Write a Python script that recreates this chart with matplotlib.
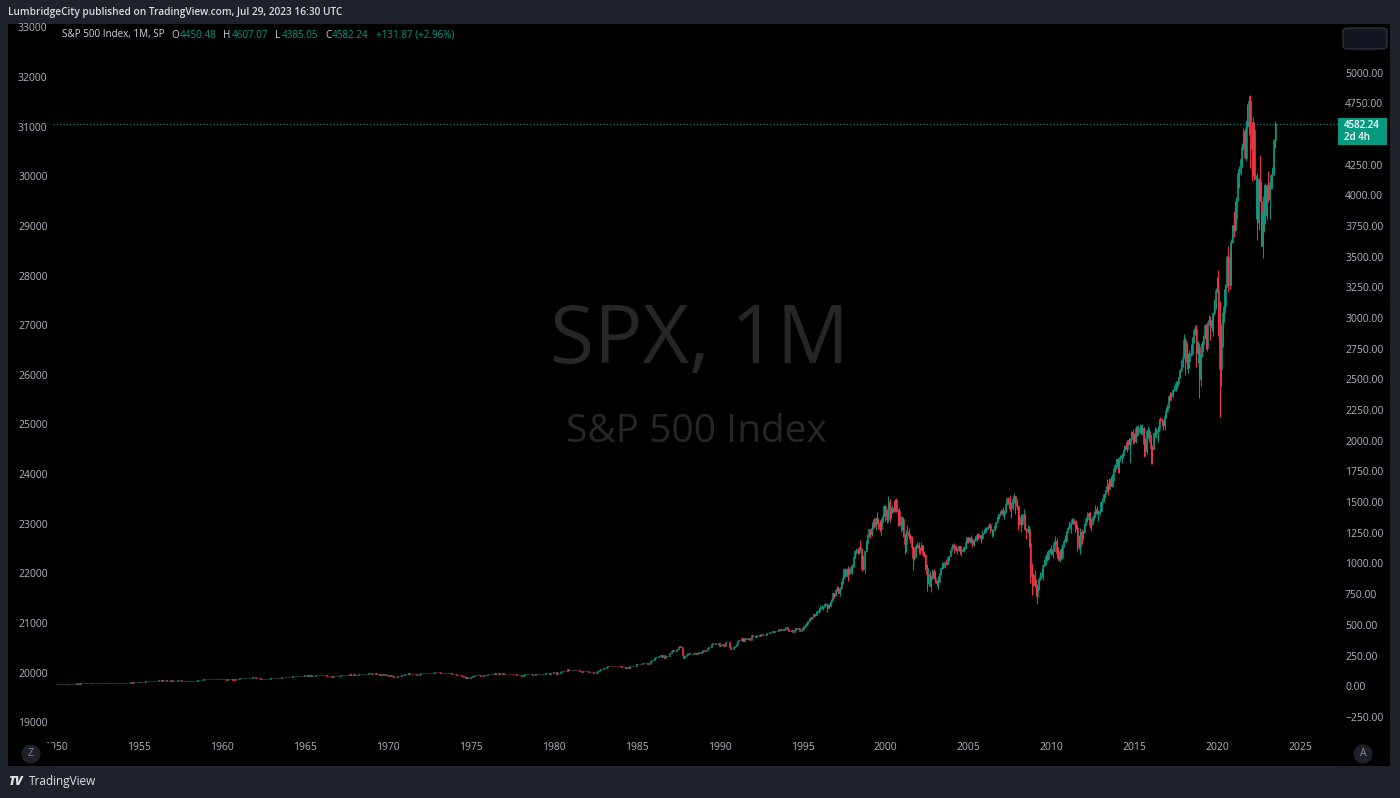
import matplotlib
matplotlib.use("Agg")
import matplotlib.pyplot as plt
import numpy as np
from matplotlib.collections import LineCollection
from matplotlib.patches import Rectangle, FancyBboxPatch, Ellipse
from matplotlib.ticker import FixedLocator, FuncFormatter

plt.rcParams['font.family'] = ['Open Sans', 'DejaVu Sans']

# ---------------- DATA: S&P 500 monthly (Jan 1950 .. Jul 2023) ----------------
first_open = 16.66  # Dec 1949 close

close_1950s = [
    17.05, 17.22, 17.29, 17.96, 18.78, 17.69, 17.84, 18.42, 19.45, 19.53, 19.51, 20.41,
    21.66, 21.80, 21.40, 22.43, 21.52, 20.96, 22.40, 23.28, 23.26, 22.94, 22.88, 23.77,
    24.14, 23.26, 24.37, 23.32, 23.86, 24.96, 25.40, 25.03, 24.54, 24.52, 25.66, 26.57,
    26.38, 25.90, 25.29, 24.62, 24.54, 24.14, 24.75, 23.32, 23.35, 24.54, 24.76, 24.81,
    26.08, 26.15, 26.94, 28.26, 29.19, 29.21, 30.88, 29.83, 32.31, 31.68, 34.24, 35.98,
    36.63, 36.76, 36.58, 37.96, 37.91, 41.03, 43.52, 43.18, 43.67, 42.34, 45.51, 45.48,
    43.82, 45.34, 48.48, 48.38, 45.20, 46.97, 49.39, 47.51, 45.35, 45.58, 45.08, 46.67,
    44.72, 43.26, 44.11, 45.74, 47.43, 47.37, 47.91, 45.22, 42.42, 41.06, 41.72, 39.99,
    41.70, 40.84, 42.10, 43.44, 44.09, 45.24, 47.19, 47.75, 50.06, 51.33, 52.48, 55.21,
    55.42, 55.41, 55.44, 57.59, 58.68, 58.47, 60.51, 59.60, 56.88, 57.52, 58.28, 59.89]
close_1960s = [
    55.61, 56.12, 55.34, 54.37, 55.83, 56.92, 55.51, 56.96, 53.52, 53.39, 55.54, 58.11,
    61.78, 63.44, 65.06, 65.31, 66.56, 64.64, 66.76, 68.07, 66.73, 68.62, 71.32, 71.55,
    68.84, 69.96, 69.55, 65.24, 59.63, 54.75, 58.23, 59.12, 56.27, 56.52, 62.26, 63.10,
    66.20, 64.29, 66.57, 69.80, 70.80, 69.37, 69.13, 72.50, 71.70, 74.01, 73.23, 75.02,
    77.04, 77.80, 78.98, 79.46, 80.37, 81.69, 83.18, 81.83, 84.18, 84.86, 84.42, 84.75,
    87.56, 87.43, 86.16, 89.11, 88.42, 84.12, 85.25, 87.17, 89.96, 92.42, 91.61, 92.43,
    92.88, 91.22, 89.23, 91.06, 86.13, 84.74, 83.60, 77.10, 76.56, 80.20, 80.45, 80.33,
    86.61, 86.78, 90.20, 94.01, 89.08, 90.64, 94.75, 93.64, 96.71, 93.90, 94.00, 96.47,
    92.24, 89.36, 90.20, 97.59, 98.68, 99.58, 97.74, 98.86, 102.67, 103.41, 108.37, 103.86,
    103.01, 98.13, 101.51, 103.69, 103.46, 97.71, 91.83, 95.51, 93.12, 97.24, 93.81, 92.06]
close_1970s = [
    85.02, 89.50, 89.63, 81.52, 76.55, 72.72, 78.05, 81.52, 84.21, 83.25, 87.20, 92.15,
    95.88, 96.75, 100.31, 103.95, 99.63, 98.70, 95.58, 99.03, 98.34, 94.23, 93.99, 102.09,
    103.94, 106.57, 107.20, 107.67, 109.53, 107.14, 107.39, 111.09, 110.55, 111.58, 116.67, 118.05,
    116.03, 111.68, 111.52, 106.97, 104.95, 104.26, 108.22, 104.25, 108.43, 108.29, 95.96, 97.55,
    96.57, 96.22, 93.98, 90.31, 87.28, 86.00, 79.31, 72.15, 63.54, 73.90, 69.97, 68.56,
    76.98, 81.59, 83.36, 87.30, 91.15, 95.19, 88.75, 86.88, 83.87, 89.04, 91.24, 90.19,
    100.86, 99.71, 102.77, 101.64, 100.18, 104.28, 103.44, 102.91, 105.24, 102.90, 102.10, 107.46,
    102.03, 99.82, 98.42, 98.44, 96.12, 100.48, 98.85, 96.77, 96.53, 92.34, 94.83, 95.10,
    89.25, 87.04, 89.21, 96.83, 97.24, 95.53, 100.68, 103.29, 102.54, 93.15, 94.70, 96.11,
    99.93, 96.28, 101.59, 101.76, 99.08, 102.91, 103.81, 109.32, 109.32, 101.82, 106.16, 107.94]
close_1980s = [
    114.16, 113.66, 102.09, 106.29, 111.24, 114.24, 121.67, 122.38, 125.46, 127.47, 140.52, 135.76,
    129.55, 131.27, 136.00, 132.81, 132.59, 131.21, 130.92, 122.79, 116.18, 121.89, 126.35, 122.55,
    120.40, 113.11, 111.96, 116.44, 111.88, 109.61, 107.09, 119.51, 120.42, 133.71, 138.54, 140.64,
    145.30, 148.06, 152.96, 164.42, 162.39, 168.11, 162.56, 164.40, 166.07, 163.55, 166.40, 164.93,
    163.41, 157.06, 159.18, 160.05, 150.55, 153.18, 150.66, 166.68, 166.10, 166.09, 163.58, 167.24,
    179.63, 181.18, 180.66, 179.83, 189.55, 191.85, 190.92, 188.63, 182.08, 189.82, 202.17, 211.28,
    211.78, 226.92, 238.90, 235.52, 247.35, 250.84, 236.12, 252.93, 231.32, 243.98, 249.22, 242.17,
    274.08, 284.20, 291.70, 288.36, 290.10, 304.00, 318.66, 329.80, 321.83, 251.79, 230.30, 247.08,
    257.07, 267.82, 258.89, 261.33, 262.16, 273.50, 272.02, 261.52, 271.91, 278.97, 273.70, 277.72,
    297.47, 288.86, 294.87, 309.64, 320.52, 317.98, 346.08, 351.45, 349.15, 340.36, 345.99, 353.40]
close_1990s = [
    329.08, 331.89, 339.94, 330.80, 361.23, 358.02, 356.15, 322.56, 306.05, 304.00, 322.22, 330.22,
    343.93, 367.07, 375.22, 375.35, 389.83, 371.16, 387.81, 395.43, 387.86, 392.45, 375.22, 417.09,
    408.79, 412.70, 403.69, 414.95, 415.35, 408.14, 424.21, 414.03, 417.80, 418.68, 431.35, 435.71,
    438.78, 443.38, 451.67, 440.19, 450.19, 450.53, 448.13, 463.56, 458.93, 467.83, 461.79, 466.45,
    481.61, 467.14, 445.77, 450.91, 456.50, 444.27, 458.26, 475.49, 462.69, 472.35, 453.69, 459.27,
    470.42, 487.39, 500.71, 514.71, 533.40, 544.75, 562.06, 561.88, 584.41, 581.50, 605.37, 615.93,
    636.02, 640.43, 645.50, 654.17, 669.12, 670.63, 639.95, 651.99, 687.33, 705.27, 757.02, 740.74,
    786.16, 790.82, 757.12, 801.34, 848.28, 885.14, 954.29, 899.47, 947.28, 914.62, 955.40, 970.43,
    980.28, 1049.34, 1101.75, 1111.75, 1090.82, 1133.84, 1120.67, 957.28, 1017.01, 1098.67, 1163.63, 1229.23,
    1279.64, 1238.33, 1286.37, 1335.18, 1301.84, 1372.71, 1328.72, 1320.41, 1282.71, 1362.93, 1388.91, 1469.25]
close_2000s = [
    1394.46, 1366.42, 1498.58, 1452.43, 1420.60, 1454.60, 1430.83, 1517.68, 1436.51, 1429.40, 1314.95, 1320.28,
    1366.01, 1239.94, 1160.33, 1249.46, 1255.82, 1224.42, 1211.23, 1133.58, 1040.94, 1059.78, 1139.45, 1148.08,
    1130.20, 1106.73, 1147.39, 1076.92, 1067.14, 989.82, 911.62, 916.07, 815.28, 885.76, 936.31, 879.82,
    855.70, 841.15, 849.18, 916.92, 963.59, 974.50, 990.31, 1008.01, 995.97, 1050.71, 1058.20, 1111.92,
    1131.13, 1144.94, 1126.21, 1107.30, 1120.68, 1140.84, 1101.72, 1104.24, 1114.58, 1130.20, 1173.82, 1211.92,
    1181.27, 1203.60, 1180.59, 1156.85, 1191.50, 1191.33, 1234.18, 1220.33, 1228.81, 1207.01, 1249.48, 1248.29,
    1280.08, 1280.66, 1294.87, 1310.61, 1270.09, 1270.20, 1276.66, 1303.82, 1335.85, 1377.94, 1400.63, 1418.30,
    1438.24, 1406.82, 1420.86, 1482.37, 1530.62, 1503.35, 1455.27, 1473.99, 1526.75, 1549.38, 1481.14, 1468.36,
    1378.55, 1330.63, 1322.70, 1385.59, 1400.38, 1280.00, 1267.38, 1282.83, 1166.36, 968.75, 896.24, 903.25,
    825.88, 735.09, 797.87, 872.81, 919.14, 919.32, 987.48, 1020.62, 1057.08, 1036.19, 1095.63, 1115.10]
close_2010s = [
    1073.87, 1104.49, 1169.43, 1186.69, 1089.41, 1030.71, 1101.60, 1049.33, 1141.20, 1183.26, 1180.55, 1257.64,
    1286.12, 1327.22, 1325.83, 1363.61, 1345.20, 1320.64, 1292.28, 1218.89, 1131.42, 1253.30, 1246.96, 1257.60,
    1312.41, 1365.68, 1408.47, 1397.91, 1310.33, 1362.16, 1379.32, 1406.58, 1440.67, 1412.16, 1416.18, 1426.19,
    1498.11, 1514.68, 1569.19, 1597.57, 1630.74, 1606.28, 1685.73, 1632.97, 1681.55, 1756.54, 1805.81, 1848.36,
    1782.59, 1859.45, 1872.34, 1883.95, 1923.57, 1960.23, 1930.67, 2003.37, 1972.29, 2018.05, 2067.56, 2058.90,
    1994.99, 2104.50, 2067.89, 2085.51, 2107.39, 2063.11, 2103.84, 1972.18, 1920.03, 2079.36, 2080.41, 2043.94,
    1940.24, 1932.23, 2059.74, 2065.30, 2096.95, 2098.86, 2173.60, 2170.95, 2168.27, 2126.15, 2198.81, 2238.83,
    2278.87, 2363.64, 2362.72, 2384.20, 2411.80, 2423.41, 2470.30, 2471.65, 2519.36, 2575.26, 2647.58, 2673.61,
    2823.81, 2713.83, 2640.87, 2648.05, 2705.27, 2718.37, 2816.29, 2901.52, 2913.98, 2711.74, 2760.17, 2506.85,
    2704.10, 2784.49, 2834.40, 2945.83, 2752.06, 2941.76, 2980.38, 2926.46, 2976.74, 3037.56, 3140.98, 3230.78]
close_2020s = [
    3225.52, 2954.22, 2584.59, 2912.43, 3044.31, 3100.29, 3271.12, 3500.31, 3363.00, 3269.96, 3621.63, 3756.07,
    3714.24, 3811.15, 3972.89, 4181.17, 4204.11, 4297.50, 4395.26, 4522.68, 4307.54, 4605.38, 4567.00, 4766.18,
    4515.55, 4373.94, 4530.41, 4131.93, 4132.15, 3785.38, 4130.29, 3955.00, 3585.62, 3871.98, 4080.11, 3839.50,
    4076.60, 3970.15, 4109.31, 4169.48, 4179.83, 4450.38, 4582.24]

# Monthly highs / lows (read from the wicks, Jan 1995 .. Jul 2023)
wick_start_year = 1995
high_1990s = [
    473, 491, 507, 515, 535, 552, 563, 564, 587, 587, 609, 622,
    637, 665, 659, 657, 680, 679, 673, 673, 690, 711, 762, 762,
    794, 818, 815, 807, 850, 899, 957, 961, 960, 983, 960, 986,
    993, 1050, 1106, 1124, 1123, 1139, 1190, 1123, 1066, 1103, 1192, 1244,
    1285, 1283, 1321, 1361, 1368, 1377, 1418, 1361, 1358, 1374, 1400, 1474]
low_1990s = [
    459, 469, 485, 500, 509, 532, 542, 549, 561, 572, 581, 603,
    597, 632, 627, 624, 645, 658, 602, 637, 650, 680, 703, 717,
    737, 773, 756, 733, 793, 831, 880, 896, 898, 855, 911, 926,
    912, 975, 1046, 1076, 1074, 1075, 1114, 939, 944, 923, 1090, 1132,
    1212, 1208, 1225, 1282, 1289, 1276, 1325, 1280, 1268, 1233, 1342, 1387]
high_2000s = [
    1478, 1446, 1553, 1528, 1464, 1474, 1517, 1525, 1530, 1440, 1454, 1389,
    1383, 1376, 1243, 1269, 1316, 1287, 1239, 1226, 1140, 1110, 1160, 1173,
    1176, 1131, 1173, 1148, 1098, 1070, 993, 962, 935, 904, 954, 954,
    935, 865, 895, 920, 965, 1016, 1016, 1011, 1040, 1054, 1063, 1112,
    1155, 1158, 1163, 1150, 1128, 1146, 1142, 1110, 1132, 1142, 1188, 1218,
    1217, 1212, 1229, 1192, 1200, 1220, 1246, 1245, 1243, 1233, 1270, 1276,
    1295, 1297, 1311, 1326, 1326, 1284, 1283, 1306, 1340, 1390, 1407, 1431,
    1441, 1461, 1438, 1499, 1534, 1541, 1556, 1504, 1539, 1576, 1552, 1523,
    1471, 1396, 1406, 1404, 1441, 1404, 1293, 1314, 1304, 1167, 1007, 919,
    944, 877, 832, 888, 930, 956, 996, 1040, 1081, 1101, 1111, 1130]
low_2000s = [
    1350, 1326, 1339, 1339, 1373, 1415, 1420, 1428, 1420, 1305, 1308, 1255,
    1274, 1214, 1081, 1091, 1246, 1203, 1165, 1125, 944, 1026, 1054, 1124,
    1081, 1074, 1106, 1063, 1049, 945, 775, 834, 814, 768, 872, 872,
    841, 818, 789, 846, 904, 951, 962, 961, 990, 995, 1023, 1058,
    1105, 1124, 1088, 1103, 1077, 1112, 1078, 1060, 1100, 1091, 1128, 1163,
    1163, 1163, 1166, 1137, 1146, 1187, 1183, 1201, 1205, 1168, 1201, 1246,
    1245, 1253, 1277, 1290, 1245, 1219, 1224, 1264, 1290, 1327, 1360, 1385,
    1403, 1389, 1364, 1416, 1481, 1484, 1429, 1370, 1439, 1489, 1406, 1435,
    1270, 1316, 1257, 1312, 1373, 1272, 1200, 1247, 1134, 840, 741, 818,
    805, 734, 667, 783, 866, 889, 869, 979, 991, 1020, 1029, 1085]
high_2010s = [
    1150, 1113, 1180, 1220, 1206, 1132, 1120, 1129, 1157, 1196, 1228, 1263,
    1303, 1344, 1333, 1367, 1370, 1347, 1357, 1308, 1229, 1292, 1277, 1270,
    1333, 1378, 1420, 1422, 1416, 1364, 1392, 1426, 1475, 1470, 1434, 1449,
    1504, 1530, 1570, 1598, 1688, 1655, 1698, 1710, 1730, 1776, 1814, 1849,
    1850, 1867, 1884, 1897, 1925, 1968, 1991, 2005, 2019, 2019, 2076, 2094,
    2065, 2120, 2118, 2126, 2135, 2130, 2133, 2113, 2021, 2094, 2117, 2104,
    2044, 1962, 2073, 2112, 2103, 2121, 2178, 2194, 2187, 2169, 2214, 2278,
    2301, 2372, 2401, 2398, 2418, 2454, 2484, 2491, 2520, 2582, 2658, 2695,
    2873, 2836, 2801, 2718, 2742, 2791, 2848, 2917, 2941, 2940, 2815, 2800,
    2708, 2813, 2860, 2950, 2955, 2964, 3028, 3013, 3022, 3050, 3154, 3248]
low_2010s = [
    1071, 1045, 1101, 1165, 1041, 1029, 1011, 1040, 1039, 1132, 1174, 1173,
    1256, 1283, 1250, 1321, 1318, 1258, 1283, 1102, 1114, 1075, 1159, 1202,
    1257, 1311, 1340, 1357, 1291, 1267, 1325, 1354, 1397, 1403, 1343, 1398,
    1426, 1486, 1501, 1537, 1581, 1560, 1605, 1628, 1627, 1647, 1747, 1768,
    1738, 1738, 1834, 1815, 1863, 1915, 1930, 1905, 1964, 1821, 2001, 1973,
    1981, 1981, 2040, 2048, 2067, 2056, 2044, 1867, 1872, 1893, 2019, 1993,
    1812, 1810, 1931, 2034, 2026, 1992, 2074, 2148, 2120, 2084, 2084, 2188,
    2234, 2271, 2322, 2329, 2353, 2406, 2407, 2418, 2447, 2515, 2557, 2605,
    2671, 2533, 2586, 2553, 2594, 2692, 2699, 2796, 2864, 2604, 2631, 2347,
    2443, 2681, 2722, 2831, 2750, 2729, 2941, 2822, 2892, 2856, 3023, 3070]
high_2020s = [
    3338, 3394, 3137, 2955, 3068, 3233, 3280, 3514, 3588, 3550, 3646, 3760,
    3871, 3951, 3983, 4218, 4238, 4302, 4429, 4546, 4546, 4608, 4744, 4808,
    4819, 4595, 4637, 4594, 4169, 4178, 4140, 4325, 4119, 3994, 4081, 4101,
    4094, 4196, 4110, 4170, 4232, 4458, 4607]
low_2020s = [
    3214, 2855, 2192, 2447, 2767, 2966, 3074, 3252, 3209, 3234, 3268, 3615,
    3663, 3700, 3724, 3955, 4057, 4165, 4234, 4368, 4306, 4279, 4560, 4495,
    4223, 4115, 4157, 4125, 3811, 3637, 3721, 3954, 3584, 3491, 3699, 3764,
    3795, 3944, 3809, 4049, 4048, 4166, 4385]

year_ticks = [1950, 1955, 1960, 1965, 1970, 1975, 1980, 1985, 1990, 1995,
              2000, 2005, 2010, 2015, 2020, 2025]
# 4500.00 is hidden behind the last-price label in the reference
right_ticks = [-250, 0, 250, 500, 750, 1000, 1250, 1500, 1750, 2000, 2250, 2500,
               2750, 3000, 3250, 3500, 3750, 4000, 4250, 4750, 5000]
left_ticks = [19000, 20000, 21000, 22000, 23000, 24000, 25000, 26000,
              27000, 28000, 29000, 30000, 31000, 32000, 33000]
last_price = 4582.24
countdown = "2d 4h"
legend_title = "S&P 500 Index, 1M, SP"
legend_keys = ["O", "H", "L", "C"]
legend_ohlc = ["4450.48", "4607.07", "4385.05", "4582.24"]
legend_change = "+131.87 (+2.96%)"

# ---------------- STYLE ----------------
W, H = 1400, 798
FRAME = '#1e222b'
UP, DOWN = '#089981', '#f23645'
TXT = '#b2b5be'

def fx(x):
    return x / W

def fy(y):
    return 1 - y / H

closes = np.array(close_1950s + close_1960s + close_1970s + close_1980s +
                  close_1990s + close_2000s + close_2010s + close_2020s)
opens = np.concatenate([[first_open], closes[:-1]])
n = len(closes)
t = 1950 + np.arange(n) / 12.0
up = closes >= opens

highs = np.array(high_1990s + high_2000s + high_2010s + high_2020s, dtype=float)
lows = np.array(low_1990s + low_2000s + low_2010s + low_2020s, dtype=float)
w0 = (wick_start_year - 1950) * 12

fig = plt.figure(figsize=(W / 100, H / 100), dpi=100, facecolor=FRAME)
ax = fig.add_axes([fx(8), fy(766), fx(1390) - fx(8), fy(24) - fy(766)])
ax.set_facecolor('black')
for s in ax.spines.values():
    s.set_visible(False)

# axis mapping (pixel calibration of the reference)
x_left = 1955 - 131 / 16.586
x_right = 1955 + 1251 / 16.586
ax.set_xlim(x_left, x_right)
ax.set_ylim((686.2 - 766) / 0.12272, (686.2 - 24) / 0.12272)

# watermark
ax.text(0.5, fy(342), 'SPX, 1M', transform=fig.transFigure, ha='center', va='center',
        fontsize=58, color='#262628', zorder=0)
ax.text(0.4975, fy(432), 'S&P 500 Index', transform=fig.transFigure, ha='center', va='center',
        fontsize=28, color='#262628', zorder=0)

cols = [UP if u else DOWN for u in up]

# wicks
wt = t[w0:]
wick_segs = [[(wt[i], lows[i]), (wt[i], highs[i])] for i in range(len(wt))]
ax.add_collection(LineCollection(wick_segs, colors=cols[w0:], linewidths=0.7, zorder=2))

# bodies
ax.bar(t, closes - opens, bottom=opens, width=0.75 / 12, color=cols, edgecolor=cols,
       linewidth=0.45, align='center', zorder=3)

# last price dotted line
def px2t(x):
    return 1955 + (x - 139) / 16.586
ax.hlines(last_price, px2t(53), px2t(1338), colors=UP, linestyles=(0, (1, 2)),
          linewidth=0.8, zorder=1)

# x axis
ax.xaxis.set_major_locator(FixedLocator(year_ticks))
ax.xaxis.set_major_formatter(FuncFormatter(lambda v, p: f"{int(round(v))}"))
ax.tick_params(axis='x', length=0, pad=-17.5, labelsize=7.5, labelcolor=TXT)

# right price axis
ax.yaxis.tick_right()
ax.yaxis.set_major_locator(FixedLocator(right_ticks))
ax.yaxis.set_major_formatter(FuncFormatter(lambda v, p: f"{v:.2f}".replace('-', '\u2212')))
ax.tick_params(axis='y', length=0, pad=-32.4, labelsize=7.5, labelcolor=TXT)

# left scale
sec = ax.secondary_yaxis('left', functions=(lambda v: 19727.2 + 2.4722 * v,
                                            lambda L: (L - 19727.2) / 2.4722))
sec.yaxis.set_major_locator(FixedLocator(left_ticks))
sec.yaxis.set_major_formatter(FuncFormatter(lambda v, p: f"{int(round(v))}"))
sec.tick_params(axis='y', length=0, pad=-28.5, labelsize=7.5, labelcolor=TXT)
for s in sec.spines.values():
    s.set_visible(False)

# ---------------- chrome ----------------
fig.text(fx(8), fy(13), 'LumbridgeCity published on TradingView.com, Jul 29, 2023 16:30 UTC',
         ha='left', va='center', fontsize=7.3, color='#d8dae0', fontweight='semibold')

# legend row, pieces placed one after another
renderer = fig.canvas.get_renderer()
legend_y = fy(35)
LFS = 7.1
pieces = [(legend_title, '#d1d4dc', 0)]
for k, v in zip(legend_keys, legend_ohlc):
    pieces.append((k, '#d1d4dc', 7))
    pieces.append((v, UP, 1))
pieces.append((legend_change, UP, 7))
xcur = 61.5
for txt, col, gap in pieces:
    xcur += gap
    tt = fig.text(fx(xcur), legend_y, txt, ha='left', va='center', fontsize=LFS, color=col)
    bb = tt.get_window_extent(renderer=renderer)
    xcur += bb.width

# top-right button
fig.patches.append(FancyBboxPatch((fx(1343), fy(49)), fx(1387) - fx(1343), fy(28) - fy(49),
                                  boxstyle='round,pad=0,rounding_size=0.004',
                                  transform=fig.transFigure, facecolor='#131722',
                                  edgecolor='#363a45', linewidth=0.8))

# price label
fig.patches.append(Rectangle((fx(1338), fy(145)), fx(1387) - fx(1338), fy(118) - fy(145),
                             transform=fig.transFigure, facecolor=UP, edgecolor='none'))
fig.text(fx(1344), fy(131.5), f"{last_price:.2f}\n{countdown}", ha='left', va='center',
         fontsize=7.1, color='white', fontweight='semibold', linespacing=1.05)

# Z / A buttons
fig.patches.append(Rectangle((fx(8), fy(765)), fx(54) - fx(8), fy(743) - fy(765),
                             transform=fig.transFigure, facecolor='black', edgecolor='none'))
for cx, letter in [(31, 'Z'), (1363, 'A')]:
    fig.patches.append(Ellipse((fx(cx), fy(754)), 19 / W, 19 / H, transform=fig.transFigure,
                               facecolor='#1e2129', edgecolor='none'))
    fig.text(fx(cx), fy(754), letter, ha='center', va='center', fontsize=7.5, color='#868993')

# bottom logo
fig.text(fx(8), fy(782), 'TV', ha='left', va='center', fontsize=9, color='#e0e3eb',
         fontweight='heavy', fontstyle='italic')
fig.text(fx(29), fy(782), 'TradingView', ha='left', va='center', fontsize=8.5, color='#e0e3eb')

fig.savefig('out.png', dpi=100, facecolor=FRAME)
